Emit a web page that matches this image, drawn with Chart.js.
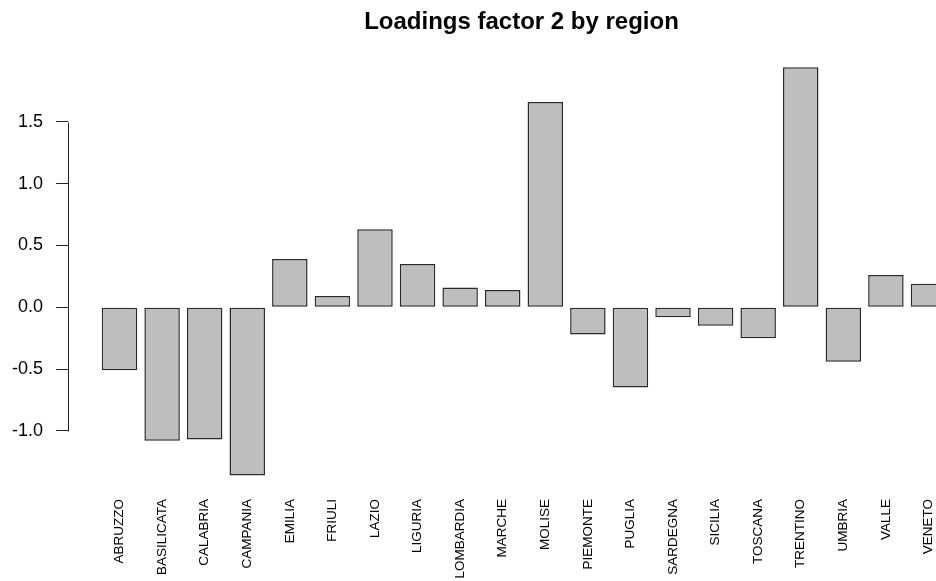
<!DOCTYPE html>
<html>
<head>
<meta charset="utf-8">
<script src="https://cdn.jsdelivr.net/npm/chart.js@4"></script>
<style>
  html, body { margin: 0; padding: 0; background: #fff; overflow: hidden; }
  #wrap { width: 1043px; height: 581px; }
</style>
</head>
<body>
<div id="wrap"><canvas id="loadChart"></canvas></div>
<script>
const regions = ["ABRUZZO", "BASILICATA", "CALABRIA", "CAMPANIA", "EMILIA", "FRIULI", "LAZIO",
    "LIGURIA", "LOMBARDIA", "MARCHE", "MOLISE", "PIEMONTE", "PUGLIA", "SARDEGNA", "SICILIA",
    "TOSCANA", "TRENTINO", "UMBRIA", "VALLE", "VENETO"];
const loadings = [-0.51, -1.08, -1.07, -1.36, 0.39, 0.09, 0.63,
    0.35, 0.16, 0.14, 1.66, -0.22, -0.65, -0.08, -0.15,
    -0.25, 1.94, -0.44, 0.26, 0.19];
const yTicks = [-1.0, -0.5, 0.0, 0.5, 1.0, 1.5];

// barplot layout like R: width 1, space 0.2
const barMid = i => 0.7 + 1.2 * i;

// R style y axis line, only from first to last tick
const axisLine = {
    id: 'axisLine',
    afterDraw(chart) {
        const y = chart.scales.y;
        const ctx = chart.ctx;
        const x = Math.round(chart.chartArea.left) + 0.5;
        ctx.save();
        ctx.strokeStyle = '#222';
        ctx.lineWidth = 1;
        ctx.beginPath();
        ctx.moveTo(x, Math.round(y.getPixelForValue(yTicks[yTicks.length - 1])) + 0.5);
        ctx.lineTo(x, Math.round(y.getPixelForValue(yTicks[0])) + 0.5);
        ctx.stroke();
        ctx.restore();
    }
};

const ctx = document.getElementById("loadChart").getContext("2d");

new Chart(ctx, {
    type: 'bar',
    data: {
        datasets: [{
            data: regions.map((r, i) => ({ x: barMid(i), y: loadings[i] })),
            backgroundColor: '#bebebe',
            borderColor: '#2a2a2a',
            borderWidth: 1.5,
            borderSkipped: false,
            categoryPercentage: 1,
            barPercentage: 0.8333
        }]
    },
    options: {
        responsive: true,
        maintainAspectRatio: false,
        animation: false,
        layout: { padding: 0 },
        plugins: {
            legend: { display: false },
            tooltip: { enabled: false },
            title: {
                display: true,
                text: 'Loadings factor 2 by region',
                color: '#000',
                font: { family: 'Liberation Sans, Arial, sans-serif', size: 24, weight: 'bold' },
                padding: { top: 8, bottom: 14.2 }
            }
        },
        scales: {
            x: {
                type: 'linear',
                min: -0.752,
                max: 24.952,
                offset: false,
                grid: { display: false, offset: false },
                border: { display: false },
                afterBuildTicks: (scale) => {
                    scale.ticks = regions.map((r, i) => ({ value: barMid(i) }));
                },
                afterFit: (scale) => { scale.height = 88; },
                ticks: {
                    autoSkip: false,
                    minRotation: 90,
                    maxRotation: 90,
                    padding: -2,
                    color: '#000',
                    font: { family: 'Liberation Sans, Arial, sans-serif', size: 13.5 },
                    callback: (value, index) => regions[index]
                }
            },
            y: {
                min: -1.5024,
                max: 2.0724,
                border: { display: false },
                grid: {
                    drawOnChartArea: false,
                    drawTicks: true,
                    tickLength: 12,
                    color: '#222',
                    lineWidth: 1
                },
                afterBuildTicks: (scale) => {
                    scale.ticks = yTicks.map(v => ({ value: v }));
                },
                afterFit: (scale) => { scale.width = 68; },
                ticks: {
                    padding: 13,
                    color: '#000',
                    font: { family: 'Liberation Sans, Arial, sans-serif', size: 18 },
                    callback: (value) => value.toFixed(1)
                }
            },
            // empty right margin, keeps the plot region where R puts it
            yRight: {
                position: 'right',
                grid: { display: false },
                border: { display: false },
                ticks: { display: false },
                afterFit: (scale) => { scale.width = 63; }
            }
        }
    },
    plugins: [axisLine]
});
</script>
</body>
</html>
